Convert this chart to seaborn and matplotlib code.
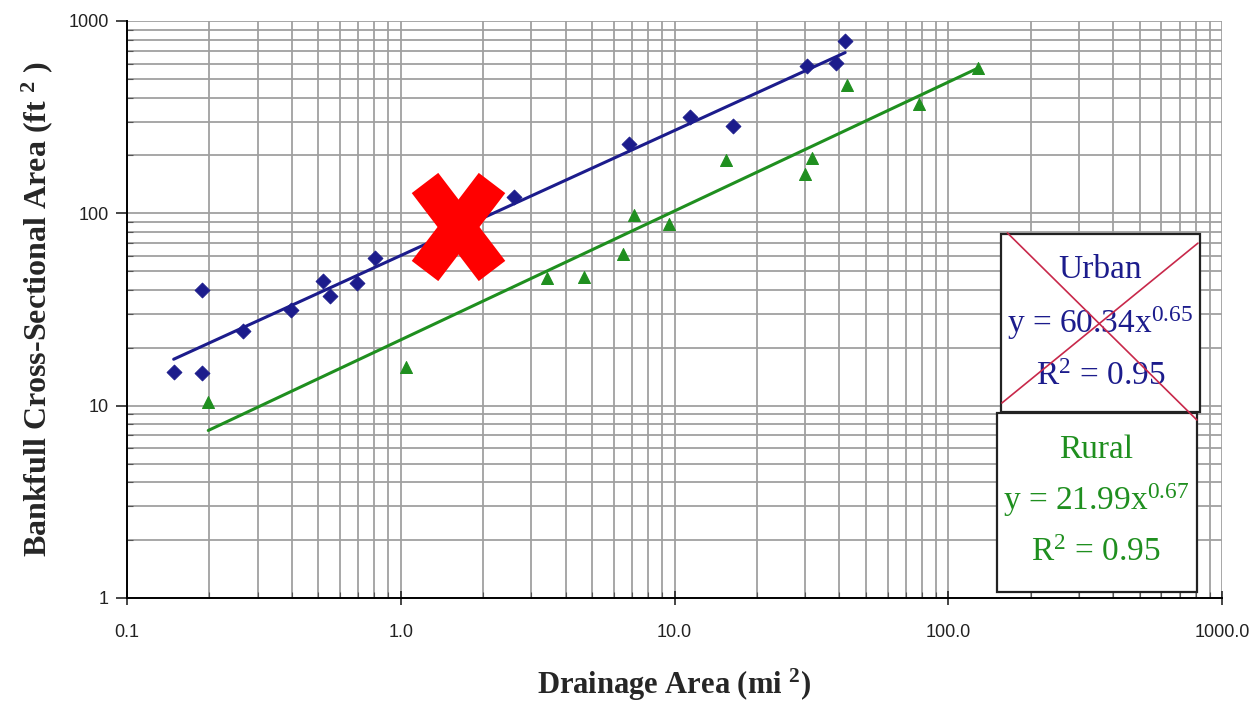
import numpy as np
import pandas as pd
import matplotlib
matplotlib.use("Agg")
import matplotlib.pyplot as plt
import matplotlib.ticker as mticker
from matplotlib.patches import Rectangle
import seaborn as sns

# data
urban_area = [0.148, 0.188, 0.188, 0.265, 0.397, 0.52, 0.55, 0.69, 0.805, 2.59,
              6.8, 11.4, 16.4, 30.5, 38.9, 42.0]
urban_xsec = [15.0, 40.0, 14.7, 24.4, 31.4, 44.5, 37.1, 43.4, 58.6, 121.6,
              229, 317, 284, 583, 605, 787]
rural_area = [0.198, 1.045, 3.42, 4.67, 6.48, 7.11, 9.55, 15.4, 30.0, 31.8,
              42.7, 78.0, 128.0]
rural_xsec = [10.4, 15.9, 46.1, 46.6, 61.4, 98.0, 88.0, 189, 160, 194,
              465, 370, 570]

# power-law fits as printed in the boxes
urban_coef, urban_exp, urban_r2 = 60.34, 0.65, 0.95
rural_coef, rural_exp, rural_r2 = 21.99, 0.67, 0.95

x_ticks = [0.1, 1.0, 10.0, 100.0, 1000.0]
x_ticklabels = ["0.1", "1.0", "10.0", "100.0", "1000.0"]
y_ticks = [1, 10, 100, 1000]
y_ticklabels = ["1", "10", "100", "1000"]

navy = "#1c1c8c"
green = "#1f8f1f"

sns.set_style("white")
plt.rcParams["font.family"] = ["Liberation Serif", "DejaVu Serif"]
plt.rcParams["mathtext.fontset"] = "custom"
plt.rcParams["mathtext.rm"] = "Liberation Serif"
plt.rcParams["mathtext.it"] = "Liberation Serif"
plt.rcParams["mathtext.bf"] = "Liberation Serif:bold"

urban = pd.DataFrame({"area": urban_area, "xsec": urban_xsec})
rural = pd.DataFrame({"area": rural_area, "xsec": rural_xsec})

u_x = np.geomspace(min(urban_area), max(urban_area), 50)
r_x = np.geomspace(min(rural_area), max(rural_area), 50)
urban_fit = pd.DataFrame({"area": u_x, "xsec": urban_coef * u_x ** urban_exp})
rural_fit = pd.DataFrame({"area": r_x, "xsec": rural_coef * r_x ** rural_exp})

fig = plt.figure(figsize=(12.53, 7.06), dpi=100)
ax = fig.add_axes([0.1014, 0.153, 0.8739, 0.8173])

ax.set_xscale("log")
ax.set_yscale("log")
ax.set_xlim(0.1, 1000)
ax.set_ylim(1, 1000)

# grid first
ax.grid(True, which="both", color="#a0a0a0", linewidth=1.3)
ax.set_axisbelow(True)

sns.lineplot(data=urban_fit, x="area", y="xsec", ax=ax, color=navy, linewidth=2.2)
sns.lineplot(data=rural_fit, x="area", y="xsec", ax=ax, color=green, linewidth=2.2)
sns.scatterplot(data=urban, x="area", y="xsec", ax=ax, marker="D", s=58,
                color=navy, edgecolor=navy, zorder=3)
sns.scatterplot(data=rural, x="area", y="xsec", ax=ax, marker="^", s=75,
                color=green, edgecolor=green, zorder=3)

ax.xaxis.set_major_locator(mticker.FixedLocator(x_ticks))
ax.xaxis.set_major_formatter(mticker.FixedFormatter(x_ticklabels))
ax.xaxis.set_minor_locator(mticker.LogLocator(base=10, subs=np.arange(2, 10)))
ax.xaxis.set_minor_formatter(mticker.NullFormatter())
ax.yaxis.set_major_locator(mticker.FixedLocator(y_ticks))
ax.yaxis.set_major_formatter(mticker.FixedFormatter(y_ticklabels))
ax.yaxis.set_minor_locator(mticker.LogLocator(base=10, subs=np.arange(2, 10)))
ax.yaxis.set_minor_formatter(mticker.NullFormatter())

for lbl in ax.get_xticklabels() + ax.get_yticklabels():
    lbl.set_family("Liberation Sans")
    lbl.set_fontsize(13)
    lbl.set_color("#222222")
ax.tick_params(axis="x", which="major", direction="inout", length=10, width=1.2, pad=14)
ax.tick_params(axis="y", which="major", direction="out", length=8, width=1.2, pad=5)
ax.tick_params(which="minor", direction="in", length=4, width=0.8, color="#555555")
ax.tick_params(left=True, bottom=True, which="both")

for side in ["top", "right"]:
    ax.spines[side].set_visible(False)
for side in ["left", "bottom"]:
    ax.spines[side].set_color("black")
    ax.spines[side].set_linewidth(1.4)

ax.set_xlabel(r"Drainage Area (mi $^{\mathbf{2}}$)", fontsize=22, fontweight="bold", labelpad=18)
ax.set_ylabel(r"Bankfull Cross-Sectional Area (ft $^{\mathbf{2}}$ )", fontsize=23,
              fontweight="bold", labelpad=10)
ax.legend_ = None

# equation boxes
ax.add_patch(Rectangle((0.798, 0.322), 0.182, 0.309, transform=ax.transAxes,
                       facecolor="white", edgecolor="#222222", linewidth=1.6, zorder=5))
ax.add_patch(Rectangle((0.7945, 0.0104), 0.1825, 0.3102, transform=ax.transAxes,
                       facecolor="white", edgecolor="#222222", linewidth=1.6, zorder=5))

box_font = 24
ax.text(0.889, 0.568, "Urban", transform=ax.transAxes, ha="center", va="center",
        fontsize=box_font, color=navy, zorder=6)
ax.text(0.889, 0.477, r"y = 60.34x$^{%.2f}$" % urban_exp, transform=ax.transAxes,
        ha="center", va="center", fontsize=box_font, color=navy, zorder=6)
ax.text(0.889, 0.383, r"R$^{2}$ = %.2f" % urban_r2, transform=ax.transAxes,
        ha="center", va="center", fontsize=box_font, color=navy, zorder=6)
ax.text(0.885, 0.2565, "Rural", transform=ax.transAxes, ha="center", va="center",
        fontsize=box_font, color=green, zorder=6)
ax.text(0.885, 0.170, r"y = 21.99x$^{%.2f}$" % rural_exp, transform=ax.transAxes,
        ha="center", va="center", fontsize=box_font, color=green, zorder=6)
ax.text(0.885, 0.078, r"R$^{2}$ = %.2f" % rural_r2, transform=ax.transAxes,
        ha="center", va="center", fontsize=box_font, color=green, zorder=6)

# thin cross over the urban box
ax.plot([0.804, 0.977], [0.6326, 0.3085], transform=ax.transAxes,
        color="#c8284a", linewidth=1.2, zorder=7)
ax.plot([0.799, 0.978], [0.338, 0.615], transform=ax.transAxes,
        color="#c8284a", linewidth=1.2, zorder=7)

# big red X
ax.plot([0.2721, 0.3333], [0.7192, 0.5667], transform=ax.transAxes, color="#ff0000",
        linewidth=24, solid_capstyle="butt", zorder=8)
ax.plot([0.3333, 0.2721], [0.7192, 0.5667], transform=ax.transAxes, color="#ff0000",
        linewidth=24, solid_capstyle="butt", zorder=8)

fig.savefig("out.png", dpi=100)
